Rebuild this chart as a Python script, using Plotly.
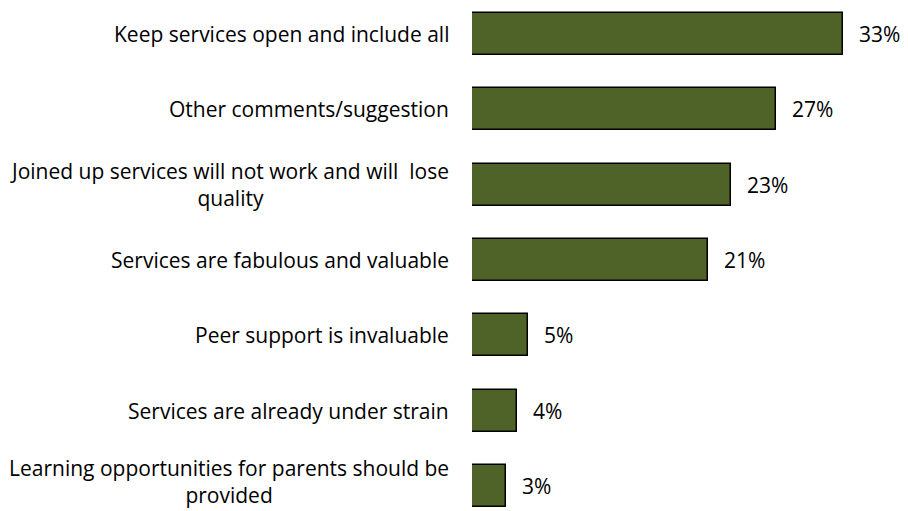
import plotly.graph_objects as go

# Survey themes, top to bottom, with their share of responses (%)
categories = [
    "Keep services open and include all",
    "Other comments/suggestion",
    "Joined up services will not work and will  lose<br>quality",
    "Services are fabulous and valuable",
    "Peer support is invaluable",
    "Services are already under strain",
    "Learning opportunities for parents should be<br>provided",
]
values = [33, 27, 23, 21, 5, 4, 3]
value_labels = ["33%", "27%", "23%", "21%", "5%", "4%", "3%"]

FONT = "Open Sans, sans-serif"
FONT_SIZE = 21
BAR_COLOR = "#4F6228"

positions = list(range(len(categories)))

fig = go.Figure(
    go.Bar(
        x=values,
        y=positions,
        orientation="h",
        width=0.56,
        marker=dict(color=BAR_COLOR, line=dict(color="#000000", width=1.5)),
        hoverinfo="skip",
    )
)

# Category labels: right-aligned block, lines centred within it
for pos, label in zip(positions, categories):
    # keep the bottom two-line label clear of the lower edge
    lift = 4 if pos == positions[-1] else 0
    fig.add_annotation(
        x=0, xref="paper", y=pos, yref="y",
        text=label, showarrow=False,
        xanchor="right", yanchor="middle", align="center",
        xshift=-21, yshift=lift,
        font=dict(family=FONT, size=FONT_SIZE, color="#000000"),
    )

# Value labels just past the end of each bar
for pos, val, lab in zip(positions, values, value_labels):
    fig.add_annotation(
        x=val, xref="x", y=pos, yref="y",
        text=lab, showarrow=False,
        xanchor="left", yanchor="middle",
        xshift=14,
        font=dict(family=FONT, size=FONT_SIZE, color="#000000"),
    )

fig.update_layout(
    width=908, height=511,
    margin=dict(l=472, r=0, t=0, b=0),
    paper_bgcolor="white",
    plot_bgcolor="white",
    showlegend=False,
    bargap=0,
    xaxis=dict(range=[0, 38.76], visible=False, fixedrange=True),
    yaxis=dict(range=[6.332, -0.451], visible=False, fixedrange=True),
)

fig.write_html("out.html")
